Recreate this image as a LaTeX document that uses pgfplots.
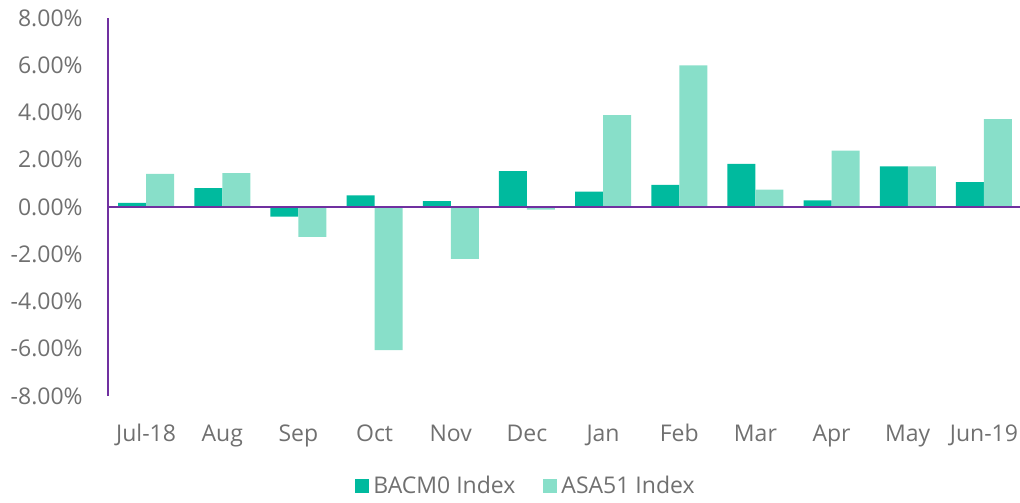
\documentclass[border=0pt]{standalone}
\usepackage{fontspec}
\setmainfont{Open Sans}
\usepackage{pgfplots}
\pgfplotsset{compat=1.18}
\definecolor{darkbar}{HTML}{00BA9E}
\definecolor{lightbar}{HTML}{88DFC9}
\definecolor{axpurple}{HTML}{7030A0}
\definecolor{txtgray}{HTML}{707070}
\begin{document}
\begin{tikzpicture}
\begin{axis}[
  name=ax,
  scale only axis,
  width=457pt, height=189pt,
  xmin=-0.5, xmax=11.5,
  ymin=-8, ymax=8,
  ybar=0pt, bar width=14pt,
  axis x line*=bottom,
  x axis line style={draw=none},
  axis y line*=left,
  y axis line style={axpurple, line width=1pt, -},
  ytick={-8,-6,-4,-2,0,2,4,6,8},
  yticklabels={-8.00\%,-6.00\%,-4.00\%,-2.00\%,0.00\%,2.00\%,4.00\%,6.00\%,8.00\%},
  ytick style={draw=none},
  xtick style={draw=none},
  yticklabel style={anchor=east, inner sep=0pt, xshift=-12.5pt, text=txtgray},
  xtick={0,...,11},
  xticklabels={Jul-18,Aug,Sep,Oct,Nov,Dec,Jan,Feb,Mar,Apr,May,Jun-19},
  xticklabel style={anchor=base, inner sep=0pt, yshift=-18.5pt, text=txtgray},
  font=\fontsize{11.5}{13}\selectfont,
  legend style={draw=none, fill=none, at={(0.4584,-0.238)}, anchor=center,
    legend columns=2, text=txtgray, font=\fontsize{11.5}{13}\selectfont,
    /tikz/every even column/.append style={column sep=12pt},
    legend cell align=left, inner sep=0pt},
  legend image code/.code={\fill[#1] (0pt,-3.5pt) rectangle (7pt,3.5pt);},
  clip=false,
]
\addplot[fill=darkbar, draw=none] coordinates {
(0,0.17) (1,0.80) (2,-0.41) (3,0.49) (4,0.25) (5,1.52) (6,0.65) (7,0.94) (8,1.83) (9,0.28) (10,1.72) (11,1.05)};
\addplot[fill=lightbar, draw=none] coordinates {
(0,1.40) (1,1.43) (2,-1.26) (3,-6.06) (4,-2.20) (5,-0.11) (6,3.89) (7,6.00) (8,0.74) (9,2.39) (10,1.72) (11,3.72)};
\legend{BACM0 Index, ASA51 Index}
\draw[axpurple, line width=1pt] (axis cs:-0.5,0) -- (axis cs:11.5,0);
\end{axis}
\pgfresetboundingbox
\path (-54pt,-53pt) rectangle (456pt,198pt);
\end{tikzpicture}
\end{document}
